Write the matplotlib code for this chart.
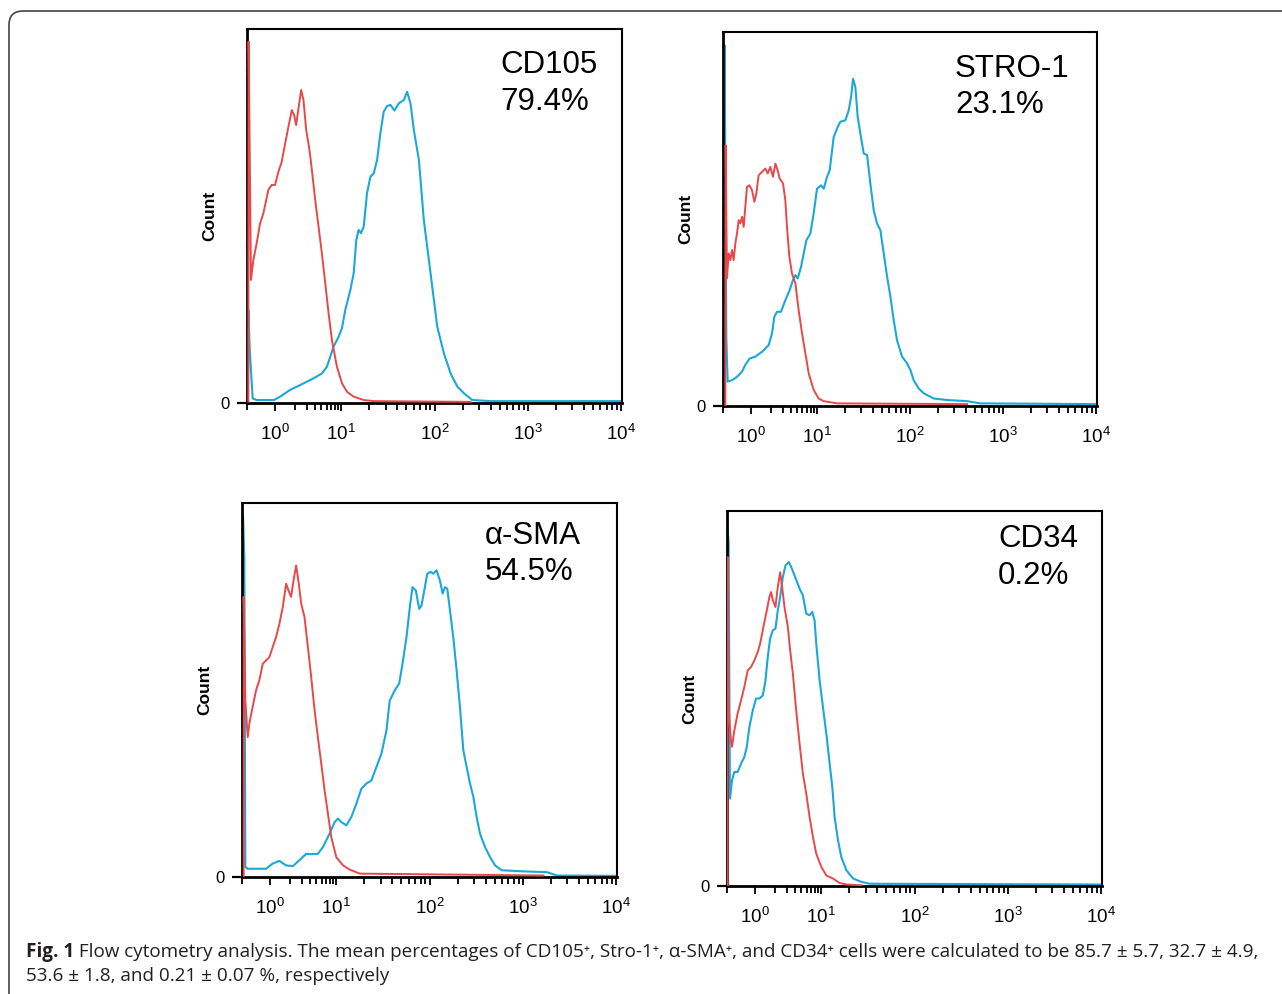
import numpy as np
import matplotlib.pyplot as plt
from matplotlib.patches import FancyBboxPatch
from matplotlib.ticker import FixedLocator
from matplotlib.transforms import IdentityTransform

plt.rcParams['font.family'] = ['Liberation Sans', 'DejaVu Sans']
plt.rcParams['mathtext.fontset'] = 'custom'
plt.rcParams['mathtext.rm'] = 'Liberation Sans'
plt.rcParams['mathtext.it'] = 'Liberation Sans:italic'
plt.rcParams['mathtext.bf'] = 'Liberation Sans:bold'

# panel labels
markers = ["CD105", "STRO-1", "α-SMA", "CD34"]
positives = ["79.4%", "23.1%", "54.5%", "0.2%"]
decade_labels = [r"$10^{0}$", r"$10^{1}$", r"$10^{2}$", r"$10^{3}$", r"$10^{4}$"]

# x = log10 fluorescence, y = count (% of axis height)
# red = isotype control, blue = stained
cd105_iso_x = [-0.404, -0.40, -0.385, -0.364, -0.328, -0.278, -0.227, -0.177, -0.101, -0.051, 0.0, 0.051,
               0.101, 0.152, 0.202, 0.253, 0.288, 0.318, 0.354, 0.394, 0.429, 0.470, 0.520, 0.556, 0.606,
               0.657, 0.707, 0.758, 0.808, 0.859, 0.934, 1.007, 1.061, 1.133, 1.240, 1.348, 2.387]
cd105_iso_y = [0.4, 96.6, 71.0, 32.9, 38.2, 42.7, 48.0, 50.7, 57.0, 58.3, 58.3, 61.9,
               64.5, 69.4, 73.9, 78.3, 77.0, 74.3, 78.8, 83.7, 81.0, 73.0, 67.6, 62.3, 54.3,
               47.1, 40.0, 32.0, 24.0, 16.8, 9.7, 5.3, 3.0, 1.7, 0.8, 0.5, 0.3]
cd105_pos_x = [-0.41, -0.404, -0.38, -0.338, -0.278, -0.015, 0.076, 0.227, 0.379, 0.581, 0.707, 0.783,
               0.884, 0.960, 1.007, 1.043, 1.097, 1.133, 1.161, 1.186, 1.211, 1.240, 1.276, 1.312,
               1.348, 1.384, 1.419, 1.455, 1.491, 1.527, 1.570, 1.616, 1.670, 1.706, 1.742, 1.778,
               1.832, 1.885, 1.957, 2.029, 2.100, 2.172, 2.244, 2.315, 2.405, 2.602, 4.0]
cd105_pos_y = [0.0, 24.9, 13.3, 1.2, 0.8, 0.8, 1.7, 3.5, 4.8, 6.6, 7.9, 9.7,
               15.1, 17.7, 20.0, 24.9, 30.2, 34.7, 43.6, 46.3, 45.4, 47.1, 56.1, 60.5,
               61.4, 65.0, 72.1, 77.9, 79.4, 79.7, 78.2, 80.1, 81.0, 83.2, 80.1, 73.0,
               65.0, 48.9, 34.7, 20.4, 13.3, 7.9, 4.4, 2.6, 0.8, 0.5, 0.5]

stro1_iso_x = [-0.389, -0.384, -0.364, -0.338, -0.313, -0.288, -0.263, -0.237, -0.212, -0.187, -0.162,
               -0.136, -0.111, -0.086, -0.061, -0.025, 0.015, 0.051, 0.081, 0.116, 0.167, 0.217, 0.253,
               0.293, 0.333, 0.369, 0.404, 0.434, 0.485, 0.520, 0.545, 0.581, 0.621, 0.672, 0.722,
               0.773, 0.823, 0.874, 0.949, 1.018, 1.072, 1.215, 2.613]
stro1_iso_y = [0.0, 69.7, 34.1, 40.8, 39.0, 41.7, 39.0, 43.5, 46.1, 49.7, 48.8,
               50.6, 47.9, 53.3, 58.6, 59.0, 57.7, 54.6, 56.8, 61.7, 62.6, 63.5, 62.2,
               63.9, 61.3, 64.8, 63.0, 60.8, 59.5, 55.0, 47.9, 39.9, 35.4, 32.8, 25.6,
               19.4, 14.1, 8.7, 4.3, 2.0, 1.3, 0.7, 0.5]
stro1_pos_x = [-0.404, -0.399, -0.374, -0.354, -0.288, -0.212, -0.136, -0.086, -0.020, 0.066, 0.167,
               0.268, 0.318, 0.354, 0.394, 0.455, 0.520, 0.586, 0.636, 0.672, 0.707, 0.758, 0.798,
               0.838, 0.899, 0.949, 1.0, 1.043, 1.072, 1.108, 1.136, 1.179, 1.215, 1.251, 1.305,
               1.341, 1.366, 1.387, 1.412, 1.437, 1.466, 1.502, 1.538, 1.573, 1.609, 1.645, 1.681,
               1.717, 1.753, 1.789, 1.824, 1.860, 1.914, 1.968, 2.004, 2.039, 2.093, 2.147, 2.254,
               2.398, 2.613, 2.756, 4.0]
stro1_pos_y = [0.0, 96.4, 18.5, 6.5, 6.9, 7.8, 9.2, 11.0, 12.7, 13.2, 14.5,
               16.3, 19.4, 23.9, 25.2, 25.2, 28.3, 31.0, 33.7, 35.0, 34.1, 37.2, 40.8,
               44.3, 46.1, 51.5, 58.1, 59.0, 58.1, 61.3, 63.0, 71.9, 74.2, 76.0, 76.4,
               79.1, 82.6, 87.5, 85.3, 77.3, 72.8, 67.5, 67.1, 59.5, 52.4, 48.8, 47.0,
               40.8, 34.6, 29.2, 23.0, 17.6, 13.2, 11.4, 9.6, 6.9, 4.7, 3.4, 2.0,
               1.6, 1.3, 0.7, 0.5]

sma_iso_x = [-0.399, -0.399, -0.374, -0.338, -0.313, -0.263, -0.212, -0.162, -0.111, -0.061, -0.010,
             0.040, 0.091, 0.141, 0.192, 0.242, 0.278, 0.318, 0.354, 0.394, 0.434, 0.470, 0.520,
             0.571, 0.621, 0.672, 0.722, 0.773, 0.823, 0.874, 0.924, 1.0, 1.072, 1.143, 1.251, 3.222]
sma_iso_y = [0.0, 74.9, 47.2, 37.4, 41.0, 45.5, 49.9, 52.6, 57.0, 57.9, 58.8,
             61.5, 64.2, 67.7, 72.2, 78.4, 76.6, 74.9, 79.3, 83.3, 78.4, 73.1, 69.5,
             61.5, 53.5, 44.6, 37.4, 30.3, 23.2, 16.9, 10.7, 5.3, 3.1, 2.0, 0.9, 0.4]
sma_pos_x = [-0.414, -0.409, -0.389, -0.374, -0.338, -0.061, 0.040, 0.141, 0.242, 0.343, 0.444,
             0.545, 0.621, 0.722, 0.798, 0.899, 0.975, 1.018, 1.054, 1.108, 1.161, 1.215, 1.269,
             1.323, 1.376, 1.430, 1.484, 1.538, 1.573, 1.627, 1.674, 1.710, 1.753, 1.789, 1.817,
             1.853, 1.889, 1.914, 1.950, 1.975, 2.011, 2.039, 2.075, 2.111, 2.140, 2.165, 2.190,
             2.219, 2.254, 2.290, 2.326, 2.362, 2.398, 2.434, 2.470, 2.505, 2.541, 2.595, 2.649,
             2.703, 2.774, 3.007, 3.258, 3.366, 4.0]
sma_pos_y = [0.0, 96.7, 85.6, 2.7, 2.2, 2.2, 3.6, 4.3, 3.1, 2.9, 4.5,
             6.2, 6.1, 6.2, 8.0, 11.6, 14.7, 15.6, 14.7, 13.8, 16.0, 19.6, 23.6,
             25.0, 25.8, 29.4, 33.0, 39.2, 47.2, 49.9, 51.7, 57.0, 64.2, 72.2, 77.5,
             76.6, 71.7, 72.6, 77.5, 81.1, 81.6, 81.1, 82.0, 79.3, 75.8, 77.5, 77.1,
             71.3, 64.2, 55.3, 45.5, 33.9, 29.4, 25.0, 21.4, 16.0, 11.6, 8.0, 5.3,
             3.1, 1.8, 1.5, 1.3, 0.4, 0.3]

cd34_iso_x = [-0.414, -0.414, -0.399, -0.364, -0.348, -0.313, -0.263, -0.212, -0.162, -0.111, -0.061,
              -0.010, 0.040, 0.076, 0.126, 0.177, 0.217, 0.242, 0.268, 0.308, 0.343, 0.379, 0.409,
              0.444, 0.495, 0.530, 0.571, 0.621, 0.672, 0.722, 0.773, 0.823, 0.874, 0.924, 1.0,
              1.054, 1.125, 1.197, 1.269, 1.430]
cd34_iso_y = [0.0, 87.7, 46.8, 38.8, 37.1, 41.5, 46.0, 49.5, 53.1, 57.5, 58.4,
              60.2, 62.4, 64.6, 69.1, 73.5, 77.1, 78.4, 76.2, 74.4, 79.7, 83.7, 79.7,
              74.4, 69.1, 62.8, 56.6, 46.8, 38.0, 30.0, 24.6, 18.4, 13.1, 8.6, 5.1,
              2.8, 2.0, 0.8, 0.4, 0.2]
cd34_pos_x = [-0.429, -0.424, -0.399, -0.389, -0.379, -0.348, -0.313, -0.263, -0.212, -0.162, -0.126,
              -0.086, -0.035, 0.015, 0.066, 0.116, 0.157, 0.192, 0.227, 0.268, 0.308, 0.343, 0.379,
              0.419, 0.460, 0.510, 0.545, 0.596, 0.672, 0.722, 0.773, 0.823, 0.864, 0.899, 0.924,
              0.975, 1.018, 1.054, 1.090, 1.118, 1.143, 1.179, 1.215, 1.269, 1.341, 1.430, 1.520, 3.993]
cd34_pos_y = [0.0, 96.6, 91.7, 54.8, 23.3, 28.2, 30.4, 30.4, 32.6, 34.4, 37.1,
              42.4, 46.8, 50.0, 50.0, 50.8, 54.8, 61.1, 66.0, 68.2, 68.6, 73.5, 77.1,
              82.4, 85.5, 86.4, 85.1, 82.8, 79.3, 77.5, 72.6, 72.2, 73.1, 70.8, 64.6,
              54.8, 47.7, 40.6, 32.6, 26.4, 18.4, 12.2, 7.7, 4.2, 2.0, 1.1, 0.6, 0.4]

panels = [
    (cd105_iso_x, cd105_iso_y, cd105_pos_x, cd105_pos_y),
    (stro1_iso_x, stro1_iso_y, stro1_pos_x, stro1_pos_y),
    (sma_iso_x, sma_iso_y, sma_pos_x, sma_pos_y),
    (cd34_iso_x, cd34_iso_y, cd34_pos_x, cd34_pos_y),
]

# axes boxes in pixels: left, top, right, bottom
boxes = [(247, 29, 622, 403), (723, 32, 1097, 406), (242, 503, 617, 877), (727, 511, 1102, 886)]
label_pos = [(0.675, 0.882, 0.783), (0.62, 0.880, 0.783), (0.648, 0.891, 0.793), (0.723, 0.904, 0.806)]

W, H = 1282, 994
RED = "#e8484a"
BLUE = "#1ba8d8"
C = 0.71  # first decade is drawn compressed


def fwd(v):
    v = np.asarray(v, dtype=float)
    return np.where(v >= 1, v, 1 - C * (1 - v))


def inv(v):
    v = np.asarray(v, dtype=float)
    return np.where(v >= 1, v, 1 - (1 - v) / C)


fig = plt.figure(figsize=(W / 100, H / 100), dpi=100)

# rounded frame around the figure
frame = FancyBboxPatch((9, -30), 1320, H - 11 + 30, boxstyle="round,pad=0,rounding_size=14",
                       transform=IdentityTransform(), fill=False, edgecolor="#444444", linewidth=1.2)
fig.patches.append(frame)

x_left = -0.424
minor = [x_left] + [n + np.log10(k) for n in range(4) for k in range(2, 10)]

for i, (ix, iy, px, py) in enumerate(panels):
    l, t, r, b = boxes[i]
    ax = fig.add_axes([l / W, 1 - b / H, (r - l) / W, (b - t) / H])
    ax.set_xscale("function", functions=(fwd, inv))
    ax.plot(px, py, color=BLUE, lw=1.5, zorder=2)
    ax.plot(ix, iy, color=RED, lw=1.4, zorder=3)
    ax.set_xlim(x_left, 4.01)
    ax.set_ylim(0, 100)

    ax.xaxis.set_major_locator(FixedLocator([0, 1, 2, 3, 4]))
    ax.xaxis.set_minor_locator(FixedLocator(minor))
    ax.set_xticklabels(decade_labels)
    ax.set_yticks([0])
    ax.set_yticklabels(["0"])
    ax.tick_params(axis="x", which="major", direction="out", length=6, width=1.3, pad=9, labelsize=13.5)
    ax.tick_params(axis="x", which="minor", direction="out", length=5, width=1.3)
    ax.tick_params(axis="y", direction="out", length=7.5, width=1.6, pad=5, labelsize=12)
    for s in ax.spines.values():
        s.set_linewidth(1.5)
        s.set_color("black")
    ax.spines["left"].set_linewidth(2.0)
    ax.spines["bottom"].set_linewidth(2.0)

    ax.text(-0.099, 0.5, "Count", transform=ax.transAxes, rotation=90, ha="center", va="center",
            fontsize=12.5, fontweight="bold")
    lx, y1, y2 = label_pos[i]
    ax.text(lx, y1, markers[i], transform=ax.transAxes, fontsize=22.5, va="baseline", ha="left")
    ax.text(lx, y2, positives[i], transform=ax.transAxes, fontsize=22.5, va="baseline", ha="left")

# caption
cap_font = ["Open Sans", "DejaVu Sans"]
cap_col = "#231f20"
cap_size = 13.6
t1 = fig.text(26 / W, 1 - 957 / H, "Fig. 1", family=cap_font, fontweight="bold", fontsize=cap_size,
              color=cap_col, va="baseline")
renderer = fig.canvas.get_renderer()
bb = t1.get_window_extent(renderer=renderer)
fig.text(bb.x1 / W, 1 - 957 / H,
         " Flow cytometry analysis. The mean percentages of CD105\u207a, Stro-1\u207a, \u03b1-SMA\u207a, "
         "and CD34\u207a cells were calculated to be 85.7 \u00b1 5.7, 32.7 \u00b1 4.9,",
         family=cap_font, fontsize=cap_size, color=cap_col, va="baseline")
fig.text(26 / W, 1 - 981 / H, "53.6 \u00b1 1.8, and 0.21 \u00b1 0.07 %, respectively",
         family=cap_font, fontsize=cap_size, color=cap_col, va="baseline")

fig.savefig("out.png", dpi=100)
